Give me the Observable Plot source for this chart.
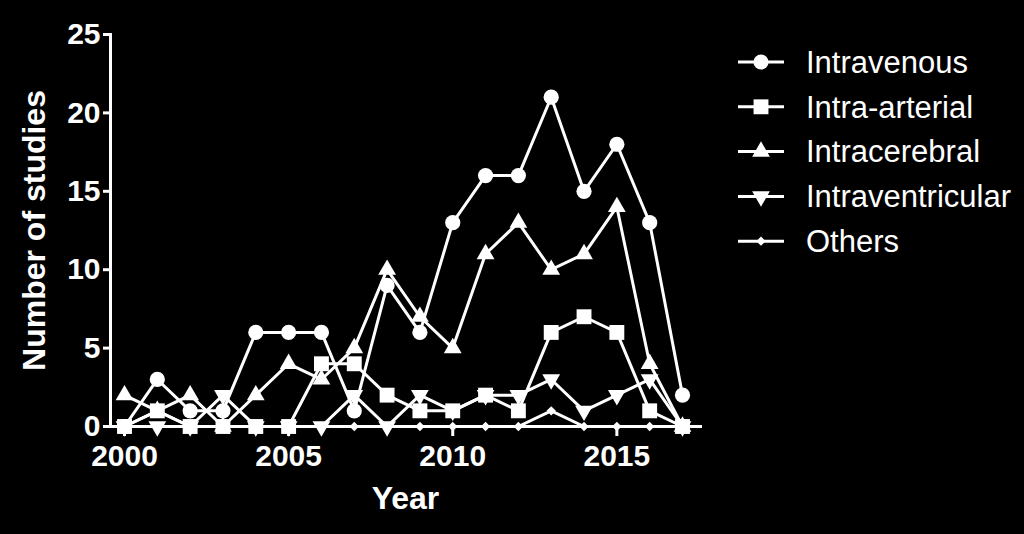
<!DOCTYPE html>
<html><head><meta charset="utf-8">
<script src="https://cdn.jsdelivr.net/npm/d3@7"></script>
<script src="https://cdn.jsdelivr.net/npm/@observablehq/plot@0.6"></script>
<style>
html,body{margin:0;padding:0;background:#000;}
#wrap{position:relative;width:1024px;height:534px;overflow:hidden;background:#000;}
</style></head><body><div id="wrap"></div>
<script>
const years = [2000,2001,2002,2003,2004,2005,2006,2007,2008,2009,2010,2011,2012,2013,2014,2015,2016,2017];
const seriesNames = ["Intravenous","Intra-arterial","Intracerebral","Intraventricular","Others"];
const intravenous      = [0,3,1,1,6,6,6,1,9,6,13,16,16,21,15,18,13,2];
const intraArterial    = [0,1,0,0,0,0,4,4,2,1,1,2,1,6,7,6,1,0];
const intracerebral    = [2,1,2,0,2,4,3,5,10,7,5,11,13,10,11,14,4,0];
const intraventricular = [0,0,0,2,0,0,0,2,0,2,1,2,2,3,1,2,3,0];
const others           = [0,1,0,0,0,0,0,0,0,0,0,0,0,1,0,0,0,0];
const xTicks = [2000,2005,2010,2015];
const yTicks = [0,5,10,15,20,25];

const values = [intravenous, intraArterial, intracerebral, intraventricular, others];
const data = seriesNames.flatMap((name, i) => years.map((year, j) => ({series: name, year, count: values[i][j]})));

const triangleDown = {
  draw(context, size) {
    const a = Math.sqrt(4 * size / Math.sqrt(3));
    const h = a * Math.sqrt(3) / 2;
    context.moveTo(0, 2 * h / 3);
    context.lineTo(a / 2, -h / 3);
    context.lineTo(-a / 2, -h / 3);
    context.closePath();
  }
};
const symbols = [d3.symbolCircle, d3.symbolSquare, d3.symbolTriangle, triangleDown, d3.symbolDiamond2];
const radii = [7.6, 8.4, 6.6, 6.6, 4.2];

const FONT = "'Liberation Sans', Arial, Helvetica, sans-serif";

const marks = [
  Plot.frame({anchor: "left", stroke: "white", strokeWidth: 3}),
  Plot.frame({anchor: "bottom", stroke: "white", strokeWidth: 3}),
  Plot.axisY({ticks: yTicks, tickSize: 7, tickPadding: 3, fontSize: 30, fontWeight: "bold", strokeWidth: 3, label: null}),
  Plot.axisX({ticks: xTicks, tickSize: 10, tickPadding: 8, tickFormat: d => String(d), fontSize: 30, fontWeight: "bold", strokeWidth: 3, label: null}),
  Plot.text(["Year"], {frameAnchor: "bottom", dy: 82, fontSize: 32, fontWeight: "bold", fill: "white", textAnchor: "middle"}),
  Plot.text(["Number of studies"], {frameAnchor: "left", dx: -76, rotate: -90, fontSize: 32, fontWeight: "bold", fill: "white", textAnchor: "middle"})
];
seriesNames.forEach((name, i) => {
  const sub = data.filter(d => d.series === name);
  marks.push(Plot.line(sub, {x: "year", y: "count", stroke: "white", strokeWidth: 3, curve: "linear"}));
});
seriesNames.forEach((name, i) => {
  const sub = data.filter(d => d.series === name);
  marks.push(Plot.dot(sub, {x: "year", y: "count", symbol: symbols[i], r: radii[i], fill: "white", stroke: "none"}));
});

const chart = Plot.plot({
  width: 1024, height: 534,
  marginLeft: 110, marginTop: 34, marginBottom: 108, marginRight: 324,
  x: {domain: [2000, 2017], range: [124, 682]},
  y: {domain: [0, 25], range: [426, 34]},
  style: {background: "black", color: "white", fontFamily: FONT, overflow: "visible"},
  marks
});
document.getElementById("wrap").appendChild(chart);

// legend
const svg = d3.select(chart);
const lg = svg.append("g").attr("font-family", FONT).attr("text-anchor", "start");
seriesNames.forEach((name, i) => {
  const g = lg.append("g").attr("transform", `translate(0,${62 + i * 44.8})`);
  g.append("line").attr("x1", 738).attr("x2", 784).attr("y1", 0).attr("y2", 0).attr("stroke", "white").attr("stroke-width", 3);
  g.append("path").attr("transform", "translate(761,0)").attr("d", d3.symbol(symbols[i], Math.PI * radii[i] * radii[i])()).attr("fill", "white");
  g.append("text").attr("x", 806).attr("y", 0).attr("dy", "0.35em").attr("text-anchor", "start").attr("font-size", 31).attr("fill", "white").text(name);
});
</script></body></html>
